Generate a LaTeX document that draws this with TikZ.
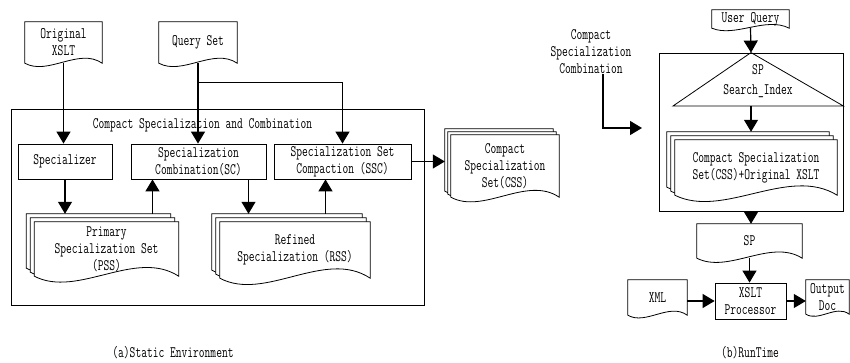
\documentclass[tikz,border=0pt]{standalone}
\usepackage{fontspec}
\setmainfont{Latin Modern Mono}[FakeStretch=0.7]
\usetikzlibrary{calc,arrows.meta}
\pgfdeclarelayer{background}
\pgfsetlayers{background,main}

\newcommand\labfont{\fontsize{16}{17}\selectfont}

% document sheets behind a text node: [wave] {node} {extra sheets} {offset}
\newcommand\docout[4][24]{%
  \coordinate (#2-back) at ($(#2.north west)+(-#3*#4,-#3*#4)$);
  \foreach \k in {#3,...,0}{
    \draw[sheet] ($(#2.north west)+(-\k*#4,-\k*#4)$) -- ($(#2.north east)+(-\k*#4,-\k*#4)$)
      -- ($(#2.south east)+(-\k*#4,-\k*#4)$)
      .. controls ($(#2.south east)!0.3!(#2.south west)+(-\k*#4,-\k*#4-#1)$)
      and ($(#2.south east)!0.7!(#2.south west)+(-\k*#4,-\k*#4+0.8*#1)$)
      .. ($(#2.south west)+(-\k*#4,-\k*#4)$) -- cycle;
  }%
}

\begin{document}
\begin{tikzpicture}[x=1pt,y=-1pt,
  every node/.style={font=\labfont, align=center, inner sep=0pt},
  box/.style={draw, line width=0.8pt},
  sheet/.style={draw, fill=white, line width=0.8pt},
  >={Triangle[length=12pt,width=14pt]},
  flow/.style={->, line width=1.2pt}]

  \useasboundingbox (0,0) rectangle (850,363);

  % (a) static environment
  \node (oxslt) at (63.5,42.5) [minimum width=77pt, minimum height=41pt] {Original\\XSLT};
  \node (qset) at (198,42.5) [minimum width=78pt, minimum height=41pt] {Query Set};

  \node (csc) at (217.5,207) [box, minimum width=413pt, minimum height=196pt] {};
  \node (csctitle) at (202.5,125) {Compact Specialization and Combination};

  \node (spec) at (65,161.5) [box, minimum width=94pt, minimum height=35pt] {Specializer};
  \node (sc) at (198.5,161.5) [box, minimum width=135pt, minimum height=35pt]
    {Specialization\\Combination(SC)};
  \node (ssc) at (342.5,161.5) [box, minimum width=137pt, minimum height=35pt]
    {Specialization Set\\Compaction (SSC)};

  \node (pss) at (106.5,249) [minimum width=144pt, minimum height=54pt]
    {Primary\\Specialization Set\\(PSS)};
  \node (rss) at (295,250) [minimum width=150pt, minimum height=56pt]
    {Refined\\Specialization (RSS)};
  \node (css) at (505,166) [minimum width=108pt, minimum height=62pt]
    {Compact\\Specialization\\Set(CSS)};

  \node (capa) at (173,353) {(a)Static Environment};

  % (b) run time
  \node (cscl) at (591,52) {Compact\\Specialization\\Combination};
  \coordinate (rin) at (642,128);

  \node (uq) at (750.5,19) [minimum width=77pt, minimum height=18pt] {User Query};
  \node (rbox) at (751,132) [box, minimum width=184pt, minimum height=158pt] {};
  \coordinate (tribase) at (751,106);
  \draw[box] (rbox.north) -- (rbox.east |- tribase) -- (673,106) -- cycle;
  \node (idx) at (758,81) {SP\\[3pt]Search\_Index};

  \node (cssx) at (756,167.5) [minimum width=162pt, minimum height=55pt]
    {Compact Specialization\\Set(CSS)+Original XSLT};
  \node (sp) at (749.5,241) [minimum width=105pt, minimum height=34pt] {SP};
  \node (xproc) at (750.5,301) [box, minimum width=71pt, minimum height=36pt] {XSLT\\Processor};
  \node (xml) at (657.5,297.5) [minimum width=59pt, minimum height=35pt] {XML};
  \node (out) at (827.5,297) [minimum width=43pt, minimum height=34pt] {Output\\Doc};

  \node (capb) at (750,353) {(b)RunTime};

  \begin{pgfonlayer}{background}
    \docout[16]{oxslt}{0}{0}
    \docout[16]{qset}{0}{0}
    \docout[28]{pss}{2}{4}
    \docout[30]{rss}{2}{4}
    \docout[22]{css}{2}{3}
    \docout[12]{uq}{0}{0}
    \docout[30]{cssx}{2}{4}
    \docout[20]{sp}{0}{0}
    \docout[13]{xml}{0}{0}
    \docout[10]{out}{0}{0}
  \end{pgfonlayer}

  \draw[flow] (oxslt.south) -- (oxslt.south |- spec.north);
  \draw[flow] (qset.south) -- (qset.south |- sc.north);
  \draw[flow] (qset.south) -- ++(0,19) -| (ssc.north);
  \draw[flow] (spec.south) -- (spec.south |- pss-back);
  \draw[flow] ([xshift=-46pt]sc.south |- pss-back) -- ([xshift=-46pt]sc.south);
  \draw[flow] ([xshift=50pt]sc.south) -- ([xshift=50pt]sc.south |- rss-back);
  \draw[flow] ([xshift=-17pt]ssc.south |- rss-back) -- ([xshift=-17pt]ssc.south);
  \draw[flow] (ssc.east) -- (ssc.east -| css-back);

  \draw[flow] ([xshift=12pt]cscl.south) |- (rin);
  \draw[flow] (uq.south) -- (rbox.north);
  \draw[flow] (tribase) -- (tribase |- cssx-back);
  \draw[flow] (rbox.south) -- (rbox.south |- sp.north);
  \draw[flow] (sp.south) -- (sp.south |- xproc.north);
  \draw[flow] (xml.east |- xproc.west) -- (xproc.west);
  \draw[flow] (xproc.east) -- (xproc.east -| out.west);

\end{tikzpicture}
\end{document}
